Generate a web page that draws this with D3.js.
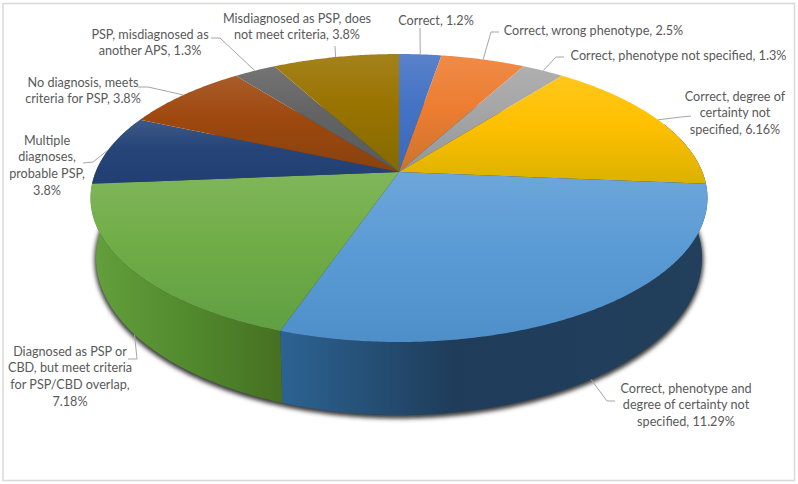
<!DOCTYPE html>
<html>
<head>
<meta charset="utf-8">
<script src="https://cdn.jsdelivr.net/npm/d3@7"></script>
<style>
  html, body { margin: 0; padding: 0; background: #fff; }
  svg { display: block; }
  text { font-family: Lato, "Open Sans", sans-serif; font-size: 12.65px; fill: #595959; }
</style>
</head>
<body>
<svg id="chart" width="798" height="484"></svg>
<script>
const categories = [
  "Correct", "Correct, wrong phenotype", "Correct, phenotype not specified",
  "Correct, degree of certainty not specified",
  "Correct, phenotype and degree of certainty not specified",
  "Diagnosed as PSP or CBD, but meet criteria for PSP/CBD overlap",
  "Multiple diagnoses, probable PSP", "No diagnosis, meets criteria for PSP",
  "PSP, misdiagnosed as another APS", "Misdiagnosed as PSP, does not meet criteria",
];
const counts = [1, 2, 1, 6, 11, 7, 3, 3, 1, 3];
const labelLines = [
  ["Correct, 1.2%"],
  ["Correct, wrong phenotype, 2.5%"],
  ["Correct, phenotype not specified, 1.3%"],
  ["Correct, degree of", "certainty not", "specified, 6.16%"],
  ["Correct, phenotype and", "degree of certainty not", "specified, 11.29%"],
  ["Diagnosed as PSP or", "CBD, but meet criteria", "for PSP/CBD overlap,", "7.18%"],
  ["Multiple", "diagnoses,", "probable PSP,", "3.8%"],
  ["No diagnosis, meets", "criteria for PSP, 3.8%"],
  ["PSP, misdiagnosed as", "another APS, 1.3%"],
  ["Misdiagnosed as PSP, does", "not meet criteria, 3.8%"],
];
const colors = ["#4472c4", "#ed7d31", "#a5a5a5", "#ffc000", "#5b9bd5", "#70ad47", "#264478", "#9e480e", "#636363", "#997300"];

// label placement: centre x, centre y of first line, then the leader's elbow points
const labelPos = [
  { x: 436, y: 20, leader: [[420, 28]] },
  { x: 593.5, y: 30, leader: [[491, 32], [499, 32]] },
  { x: 678.5, y: 55, leader: [[556, 57], [564, 57]] },
  { x: 735, y: 96, leader: [[681, 117], [691, 116]] },
  { x: 686, y: 388, leader: [[607, 401], [615, 401]], bottom: true },
  { x: 70, y: 351, leader: [[137, 359], [128, 359]], bottom: true },
  { x: 47, y: 140, leader: [[93, 162], [83, 163]] },
  { x: 83, y: 82, leader: [[148, 87], [138, 87]] },
  { x: 150, y: 34, leader: [[220, 38], [211, 38]] },
  { x: 297, y: 18, leader: [[335, 46]] },
];

const svg = d3.select("#chart");
const defs = svg.append("defs");

// tilted disc: a circle seen in perspective, so the apex sits above the ellipse centre
const persp = -0.1806;
const topFace = { cx: 399, cy: 172, a: 303.4, b: 139.3 };
const bottomFace = { cx: 399, cy: 229.6, a: 298, b: 151.9 };

const project = (face, angle) => {
  const u = Math.sin(angle), v = -Math.cos(angle), w = 1 + persp * v;
  return [face.cx + (face.a * u) / w, face.cy + (face.b * v) / w];
};
const arcPoints = (face, a0, a1) => {
  const n = Math.max(2, Math.ceil((a1 - a0) / 0.01));
  return d3.range(n + 1).map((i) => project(face, a0 + ((a1 - a0) * i) / n));
};
const line = d3.line();

const arcs = d3.pie().sort(null).value((d) => d)(counts);
const color = d3.scaleOrdinal().domain(categories).range(colors);

arcs.forEach((d, i) => {
  const base = d3.rgb(color(categories[i]));
  const g = defs.append("linearGradient").attr("id", `top-${i}`).attr("x1", 0).attr("x2", 0).attr("y1", 0).attr("y2", 1);
  g.append("stop").attr("offset", 0).attr("stop-color", d3.interpolateRgb(base, "#fff")(0.11));
  g.append("stop").attr("offset", 0.45).attr("stop-color", base);
  g.append("stop").attr("offset", 1).attr("stop-color", d3.rgb(base.r * 0.86, base.g * 0.92, base.b * 0.95));
});

const sideBlue = defs.append("linearGradient").attr("id", "side-blue");
[[0, "#2c6393"], [0.4, "#1f3d5b"], [1, "#223f5c"]].forEach(([o, c]) =>
  sideBlue.append("stop").attr("offset", o).attr("stop-color", c)
);
const sideGreen = defs.append("linearGradient").attr("id", "side-green");
[[0, "#64a03c"], [0.5, "#528a2e"], [1, "#467021"]].forEach(([o, c]) =>
  sideGreen.append("stop").attr("offset", o).attr("stop-color", c)
);

const blur = defs.append("filter").attr("id", "shadow").attr("x", "-5%").attr("y", "-5%").attr("width", "110%").attr("height", "110%");
blur.append("feGaussianBlur").attr("stdDeviation", 2.2);

// chart frame
svg.append("rect").attr("x", 3).attr("y", 3.5).attr("width", 791.5).attr("height", 477)
  .attr("fill", "#fff").attr("stroke", "#d9d9d9").attr("stroke-width", 1.5);

// shadow under the disc
svg.append("path")
  .attr("d", line(arcPoints(bottomFace, 0, 2 * Math.PI)) + "Z")
  .attr("transform", "translate(0,2)")
  .attr("fill", "#3a3a3a").attr("stroke", "#3a3a3a").attr("stroke-width", 3)
  .attr("filter", "url(#shadow)");

// side wall: only the two front slices show, run on past the silhouette so the edges close
const blueSlice = arcs[4], greenSlice = arcs[5];
const walls = [
  { a0: 1.2, a1: blueSlice.endAngle, fill: "url(#side-blue)" },
  { a0: greenSlice.startAngle, a1: 5.1, fill: "url(#side-green)" },
];
svg.append("g").selectAll("path").data(walls).join("path")
  .attr("d", (d) => {
    const pts = arcPoints(topFace, d.a0, d.a1).concat(arcPoints(bottomFace, d.a0, d.a1).reverse());
    return line(pts) + "Z";
  })
  .attr("fill", (d) => d.fill);

// top face
svg.append("g").selectAll("path").data(arcs).join("path")
  .attr("d", (d) => {
    const pts = [[topFace.cx, topFace.cy]].concat(arcPoints(topFace, d.startAngle, d.endAngle));
    return line(pts) + "Z";
  })
  .attr("fill", (d, i) => `url(#top-${i})`);

// leader lines from each slice's mid angle
svg.append("g").selectAll("path").data(arcs).join("path")
  .attr("d", (d, i) => {
    const mid = (d.startAngle + d.endAngle) / 2;
    const p = labelPos[i];
    return line([project(p.bottom ? bottomFace : topFace, mid), ...p.leader]);
  })
  .attr("fill", "none").attr("stroke", "#a6a6a6").attr("stroke-width", 1);

// labels
const lineH = 16.7;
svg.append("g").selectAll("text").data(labelLines).join("text")
  .attr("text-anchor", "middle")
  .each(function (lines, i) {
    const p = labelPos[i];
    d3.select(this).selectAll("tspan").data(lines).join("tspan")
      .attr("x", p.x)
      .attr("y", (l, j) => p.y + j * lineH)
      .attr("dominant-baseline", "central")
      .text((l) => l);
  });
</script>
</body>
</html>
